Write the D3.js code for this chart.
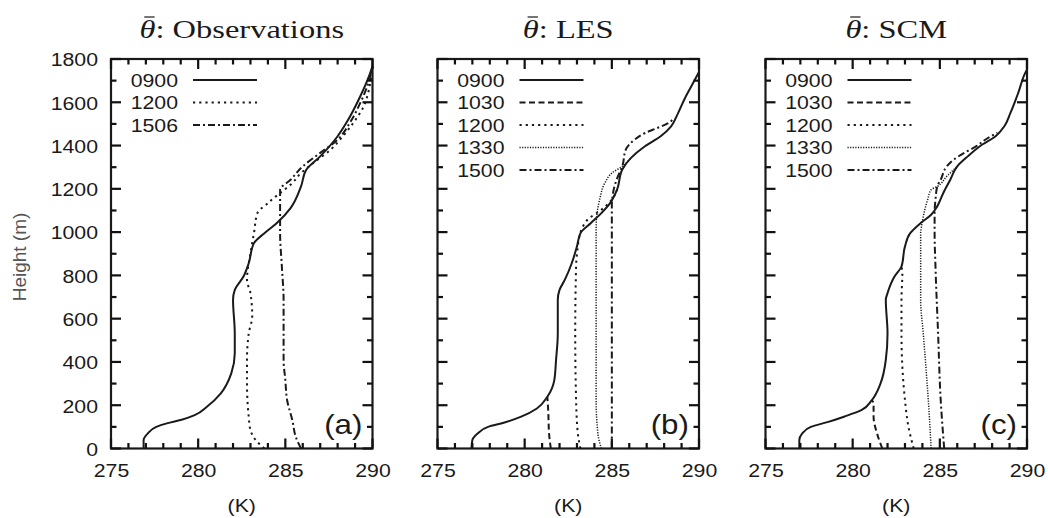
<!DOCTYPE html>
<html><head><meta charset="utf-8">
<script src="https://cdn.jsdelivr.net/npm/d3@7"></script>
<style>
html,body{margin:0;padding:0;background:#fff;}
svg{display:block;}
</style></head>
<body>
<svg id="chart" width="1048" height="518"></svg>
<script>
// ---------------- DATA ----------------
const panelTitles = ["Observations", "LES", "SCM"];
const panelLetters = ["(a)", "(b)", "(c)"];
const xTicks = [275, 280, 285, 290];
const yTicks = [0, 200, 400, 600, 800, 1000, 1200, 1400, 1600, 1800];

// Panel (a) observations
const obsLabels = ["0900", "1200", "1506"];
const obs0900_h = [0, 39, 69, 100, 116, 134, 154, 193, 255, 347, 440, 532, 687, 733, 795, 856, 949, 995, 1041, 1111, 1211, 1288, 1350, 1443, 1505, 1628, 1721, 1767];
const obs0900_T = [276.87, 276.87, 277.1, 277.6, 278.2, 279.1, 279.8, 280.5, 281.3, 281.9, 282.1, 282.1, 282.0, 282.1, 282.6, 282.9, 283.2, 283.8, 284.5, 285.3, 285.9, 286.2, 287.0, 288.0, 288.5, 289.3, 289.8, 290.0];
const obs1200_h = [0, 39, 85, 147, 301, 409, 532, 610, 718, 779, 903, 995, 1088, 1134, 1181, 1219, 1273, 1319, 1381, 1443, 1505, 1582, 1628, 1705, 1767];
const obs1200_T = [283.8, 283.3, 283.0, 282.9, 282.8, 282.8, 282.9, 283.1, 283.0, 282.8, 283.0, 283.2, 283.4, 284.0, 284.7, 285.3, 285.9, 286.6, 287.6, 288.3, 288.9, 289.5, 289.7, 289.9, 290.0];
const obs1506_h = [0, 54, 131, 224, 316, 409, 532, 687, 841, 995, 1088, 1196, 1242, 1304, 1366, 1427, 1505, 1597, 1674, 1767];
const obs1506_T = [285.9, 285.6, 285.4, 285.1, 285.0, 284.9, 284.9, 284.9, 284.8, 284.7, 284.7, 284.7, 285.3, 286.0, 287.0, 288.0, 288.7, 289.3, 289.7, 290.0];

// Panel (b) LES
const modelLabels = ["0900", "1030", "1200", "1330", "1500"];
const les0900_h = [0, 39, 69, 100, 119, 147, 185, 239, 316, 409, 532, 687, 733, 779, 856, 934, 995, 1042, 1088, 1134, 1196, 1289, 1343, 1397, 1443, 1489, 1550, 1620, 1680, 1740];
const les0900_T = [276.95, 277.0, 277.3, 277.9, 278.8, 279.8, 280.7, 281.3, 281.7, 281.8, 281.9, 281.9, 282.0, 282.3, 282.7, 283.0, 283.2, 283.8, 284.4, 284.9, 285.3, 285.6, 286.1, 286.9, 287.8, 288.4, 288.8, 289.2, 289.6, 290.0];
const les1030_h = [0, 69, 177, 239];
const les1030_T = [281.5, 281.4, 281.35, 281.3];
const les1200_h = [0, 69, 224, 532, 841, 934, 964, 1057, 1103, 1150, 1196];
const les1200_T = [283.2, 283.05, 282.95, 282.9, 282.95, 283.05, 283.1, 283.6, 284.4, 285.0, 285.3];
const les1330_h = [0, 69, 224, 687, 1026, 1150, 1227, 1273, 1304, 1343];
const les1330_T = [284.4, 284.2, 284.1, 284.1, 284.1, 284.3, 284.6, 285.0, 285.6, 286.1];
const les1500_h = [0, 532, 1119, 1211, 1258, 1304, 1381, 1427, 1458, 1481, 1502, 1520];
const les1500_T = [285.0, 285.0, 285.0, 285.15, 285.35, 285.6, 285.8, 286.3, 286.9, 287.6, 288.2, 288.5];

// Panel (c) SCM
const scm0900_h = [0, 39, 69, 100, 123, 147, 177, 224, 301, 409, 532, 687, 718, 795, 841, 934, 995, 1042, 1080, 1119, 1181, 1242, 1304, 1350, 1397, 1443, 1489, 1551, 1644, 1736, 1751];
const scm0900_T = [276.94, 276.94, 277.1, 277.6, 278.6, 279.5, 280.5, 281.1, 281.6, 281.9, 282.0, 281.9, 282.0, 282.4, 282.8, 283.0, 283.3, 283.9, 284.5, 284.85, 285.2, 285.6, 286.0, 286.6, 287.3, 288.2, 288.7, 289.05, 289.5, 289.9, 290.0];
const scm1030_h = [0, 69, 147, 208, 224];
const scm1030_T = [281.7, 281.4, 281.2, 281.2, 281.1];
const scm1200_h = [0, 100, 224, 378, 532, 687, 810, 841];
const scm1200_T = [283.5, 283.2, 283.0, 282.85, 282.8, 282.8, 282.85, 282.8];
const scm1330_h = [0, 147, 378, 532, 687, 841, 995, 1026, 1150, 1196, 1211, 1258, 1289, 1304];
const scm1330_T = [284.5, 284.4, 284.2, 284.05, 283.9, 283.9, 283.9, 283.95, 284.3, 284.5, 284.85, 285.4, 285.8, 286.0];
const scm1500_h = [0, 224, 532, 841, 995, 1088, 1150, 1211, 1242, 1304, 1335, 1366, 1397, 1427, 1460];
const scm1500_T = [285.25, 285.05, 284.9, 284.75, 284.7, 284.7, 284.75, 284.85, 285.05, 285.4, 285.8, 286.4, 287.1, 287.6, 288.3];

// ---------------- STYLES ----------------
const styles = {
  "0900": {dash: null, w: 2},
  "1030": {dash: "6,3.5", w: 2},
  "1200": {dash: "2.2,4", w: 2},
  "1330": {dash: "1.2,1.4", w: 1.5},
  "1500": {dash: "7,3,2,3", w: 2},
  "1506": {dash: "7,3,2,3", w: 2}
};

function zipSeries(h, T) { return h.map((v, i) => ({h: v, T: T[i]})); }

const panels = [
  {left: 111, series: [["0900", obs0900_h, obs0900_T], ["1200", obs1200_h, obs1200_T], ["1506", obs1506_h, obs1506_T]], legend: obsLabels},
  {left: 437.5, series: [["0900", les0900_h, les0900_T], ["1030", les1030_h, les1030_T], ["1200", les1200_h, les1200_T], ["1330", les1330_h, les1330_T], ["1500", les1500_h, les1500_T]], legend: modelLabels},
  {left: 765.5, series: [["0900", scm0900_h, scm0900_T], ["1030", scm1030_h, scm1030_T], ["1200", scm1200_h, scm1200_T], ["1330", scm1330_h, scm1330_T], ["1500", scm1500_h, scm1500_T]], legend: modelLabels}
];

const W = 261.5, TOP = 59, H = 389.5;
const SX = 1.12; // horizontal stretch of lettering
const svg = d3.select("#chart");
const sans = "'Liberation Sans', Arial, Helvetica, sans-serif";
const serif = "'Liberation Serif', 'Times New Roman', serif";
const ink = "#1a1a1a";

panels.forEach((p, pi) => {
  const g = svg.append("g").attr("transform", `translate(${p.left},${TOP})`);
  const x = d3.scaleLinear().domain([275, 290]).range([0, W]);
  const y = d3.scaleLinear().domain([0, 1800]).range([H, 0]);

  // x tick labels
  g.append("g").attr("transform", `translate(0,${H})`)
    .call(d3.axisBottom(x).tickValues(xTicks).tickSize(0).tickPadding(0).tickFormat(d3.format("d")))
    .call(s => {
      s.select(".domain").remove();
      s.selectAll("line").remove();
      s.selectAll("text").attr("y", 0).attr("dy", 0)
        .attr("transform", `translate(0,${477 - TOP - H}) scale(${SX},1)`)
        .style("font-family", sans).style("font-size", "19px").attr("fill", ink);
    });
  if (pi === 0) {
    g.append("g")
      .call(d3.axisLeft(y).tickValues(yTicks).tickSize(0).tickPadding(0).tickFormat(d3.format("d")))
      .call(s => {
        s.select(".domain").remove();
        s.selectAll("line").remove();
        s.selectAll("text").attr("x", 0).attr("dy", "0.36em")
          .attr("transform", `translate(-13,0) scale(${SX},1)`)
          .style("font-family", sans).style("font-size", "19px").attr("fill", ink);
      });
    svg.append("text")
      .attr("transform", `translate(26,257) rotate(-90)`)
      .attr("text-anchor", "middle")
      .style("font-family", sans).style("font-size", "19px").attr("fill", "#555")
      .text("Height (m)");
  }

  // curves
  const line = d3.line().x(d => x(d.T)).y(d => y(d.h)).curve(d3.curveMonotoneY);
  const plot = g.append("g");
  p.series.slice().reverse().forEach(([lab, hh, TT]) => {
    const st = styles[lab];
    plot.append("path").datum(zipSeries(hh, TT))
      .attr("d", line).attr("fill", "none").attr("stroke", ink)
      .attr("stroke-width", st.w).attr("stroke-dasharray", st.dash)
      .attr("stroke-linejoin", "round");
  });

  // frame
  g.append("rect").attr("x", 0).attr("y", 0).attr("width", W).attr("height", H)
    .attr("fill", "none").attr("stroke", ink).attr("stroke-width", 2.2);

  // ticks (inward, all four sides), placed with the scales
  const tg0 = g.append("g").attr("fill", "#111");
  d3.range(275, 291, 1).forEach(v => {
    const len = v % 5 === 0 ? 10 : 5.5;
    tg0.append("rect").attr("x", x(v) - 1.1).attr("y", H - len).attr("width", 2.2).attr("height", len);
    tg0.append("rect").attr("x", x(v) - 1.1).attr("y", 0).attr("width", 2.2).attr("height", len);
  });
  d3.range(0, 1801, 100).forEach(v => {
    const len = v % 200 === 0 ? 10 : 5.5;
    tg0.append("rect").attr("x", 0).attr("y", y(v) - 1.1).attr("width", len).attr("height", 2.2);
    tg0.append("rect").attr("x", W - len).attr("y", y(v) - 1.1).attr("width", len).attr("height", 2.2);
  });

  // legend
  const lg = g.append("g");
  p.legend.forEach((lab, i) => {
    const cy = 21 + i * 22.5;
    lg.append("text").attr("transform", `translate(67,${cy + 6.8}) scale(${SX},1)`)
      .attr("text-anchor", "end").style("font-family", sans).style("font-size", "19px").attr("fill", ink)
      .text(lab);
    const st = styles[lab];
    lg.append("line").attr("x1", 82).attr("x2", 146).attr("y1", cy).attr("y2", cy)
      .attr("stroke", ink).attr("stroke-width", st.w).attr("stroke-dasharray", st.dash);
  });

  // panel letter
  g.append("text").attr("transform", `translate(${W - 10},${434 - TOP}) scale(${SX},1)`)
    .attr("text-anchor", "end").style("font-family", sans).style("font-size", "28px").attr("fill", ink)
    .text(panelLetters[pi]);

  // x axis title
  g.append("text").attr("transform", `translate(${W / 2},${512 - TOP}) scale(${SX},1)`)
    .attr("text-anchor", "middle").style("font-family", sans).style("font-size", "19px").attr("fill", ink)
    .text("(K)");

  // panel title: theta with an overbar
  const tg = g.append("g").attr("transform", `translate(${W / 2},${38 - TOP}) scale(1.25,1)`);
  const t = tg.append("text").attr("text-anchor", "middle")
    .style("font-family", serif).style("font-size", "26px").attr("fill", ink);
  t.append("tspan").style("font-style", "italic").text("\u03B8");
  t.append("tspan").text(": " + panelTitles[pi]);
  const node = t.node();
  const p0 = node.getStartPositionOfChar(0);
  const w0 = node.getSubStringLength(0, 1);
  tg.append("line")
    .attr("x1", p0.x + w0 * 0.3).attr("x2", p0.x + w0 * 0.95)
    .attr("y1", -21).attr("y2", -21)
    .attr("stroke", ink).attr("stroke-width", 1.2);
});
</script>
</body></html>
